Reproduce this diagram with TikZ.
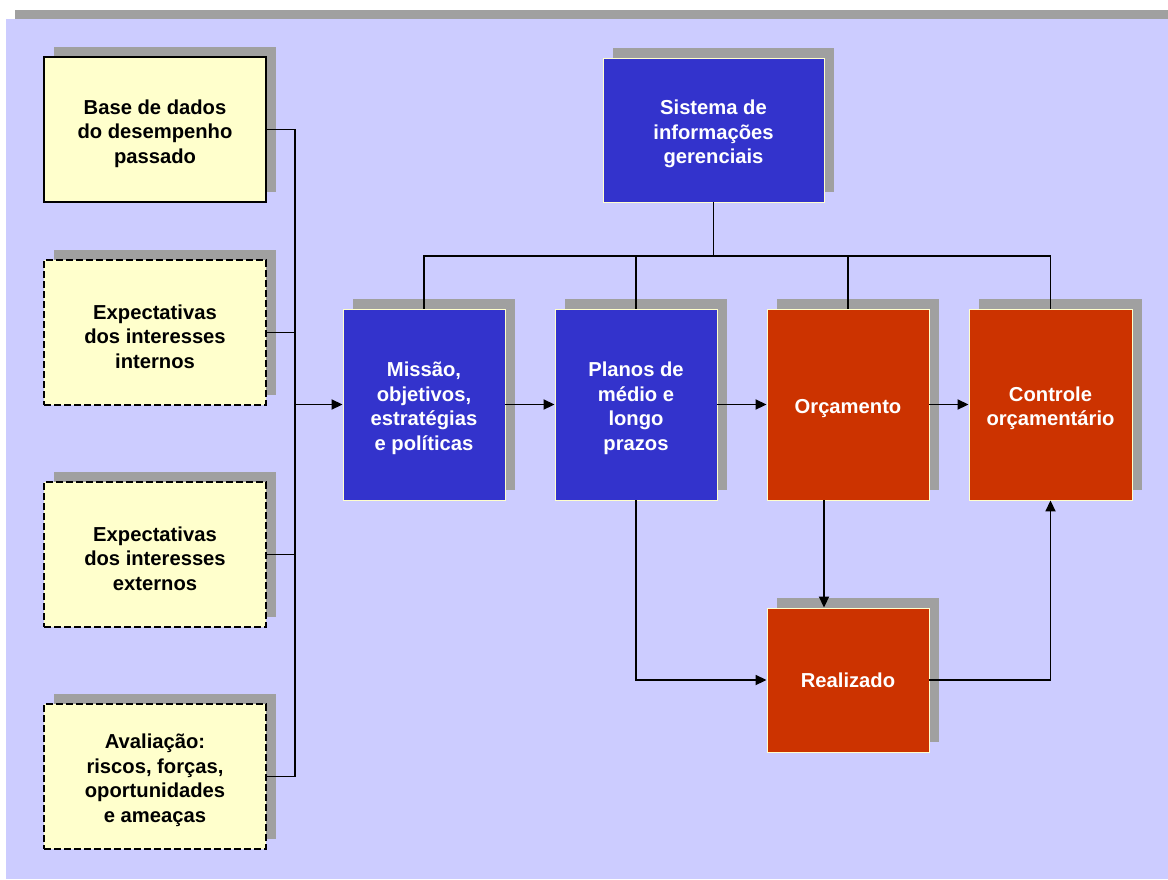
\documentclass[tikz,border=0pt]{standalone}
\usepackage{fontspec}
\setmainfont{Liberation Sans}
\usetikzlibrary{arrows.meta,shadows}
\definecolor{lav}{RGB}{204,204,255}
\definecolor{shgray}{RGB}{160,160,160}
\definecolor{ylw}{RGB}{255,255,204}
\definecolor{bluebox}{RGB}{51,51,204}
\definecolor{redbox}{RGB}{204,51,0}
\newcommand{\dn}{\rule{0pt}{22.5pt}}
\tikzset{
  shad/.style={drop shadow={shadow xshift=10pt,shadow yshift=10pt,fill=shgray,opacity=1}},
  base/.style={rectangle,align=center,inner sep=0pt,shad,font=\bfseries\fontsize{20.2}{24.5}\selectfont},
  ybox/.style={base,fill=ylw,draw=black,line width=1.4pt,minimum width=222pt,minimum height=145pt},
  ydash/.style={ybox,dash pattern=on 7pt off 3pt},
  bbox/.style={base,fill=bluebox,draw=ylw,line width=0.9pt,text=white},
  rbox/.style={base,fill=redbox,draw=ylw,line width=0.9pt,text=white},
  tall/.style={minimum width=162pt,minimum height=191pt},
  conn/.style={line width=1.8pt,black},
  arr/.style={conn,-{Triangle[length=11pt,width=10pt]}}
}
\begin{document}
\begin{tikzpicture}[x=1pt,y=-1pt]
\useasboundingbox (0,0) rectangle (1168,879);
\fill[white] (0,0) rectangle (1168,879);
\fill[shgray] (15,10) rectangle (1168,879);
\fill[lav] (6,19) rectangle (1168,879);

\node[ybox] (b1) at (155,129.5) {\dn Base de dados\\do desempenho\\passado};
\node[ydash] (b2) at (155,332.5) {\dn Expectativas\\dos interesses\\internos};
\node[ydash] (b3) at (155,554.5) {\dn Expectativas\\dos interesses\\externos};
\node[ydash] (b4) at (155,776.5) {\dn Avaliação:\\riscos, forças,\\oportunidades\\e ameaças};

\node[bbox,minimum width=221pt,minimum height=144pt] (sis) at (713.5,130) {\dn Sistema de\\informações\\gerenciais};
\node[bbox,tall] (mis) at (424,404.5) {\dn Missão,\\objetivos,\\estratégias\\e políticas};
\node[bbox,tall] (pla) at (636,404.5) {\dn Planos de\\médio e\\longo\\prazos};
\node[rbox,tall] (orc) at (848,404.5) {\dn Orçamento};
\node[rbox,tall,minimum width=163pt] (ctl) at (1050.5,404.5) {\dn Controle\\orçamentário};
\node[rbox,minimum width=162pt,minimum height=144pt] (rea) at (848,680) {Realizado};

\coordinate (bus) at (295,404.5);
\coordinate (top) at (713.5,256);

\draw[conn] (b1.east) -- (b1.east -| bus) -- (b4.east -| bus) -- (b4.east);
\draw[conn] (b2.east) -- (b2.east -| bus);
\draw[conn] (b3.east) -- (b3.east -| bus);
\draw[arr] (bus) -- (mis.west);

\draw[conn] (sis.south) -- (top);
\draw[conn] (mis.north) |- (ctl.north |- top) -- (ctl.north);
\draw[conn] (pla.north) -- (pla.north |- top);
\draw[conn] (orc.north) -- (orc.north |- top);

\draw[arr] (mis.east) -- (pla.west);
\draw[arr] (pla.east) -- (orc.west);
\draw[arr] (orc.east) -- (ctl.west);
\draw[arr] ([xshift=-24pt]orc.south) -- ([xshift=-24pt]orc.south |- rea.north);
\draw[arr] (pla.south) |- (rea.west);
\draw[arr] (rea.east) -| (ctl.south);
\end{tikzpicture}
\end{document}
